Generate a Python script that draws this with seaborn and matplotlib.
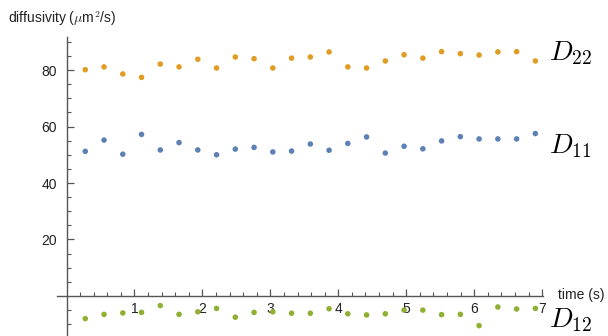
import numpy as np
import pandas as pd
import matplotlib
matplotlib.use("Agg")
import matplotlib.pyplot as plt
import seaborn as sns
from matplotlib.ticker import FixedLocator

# sampling times (s)
time = [round(0.276 * k, 3) for k in range(1, 26)]

# diffusivities (um^2/s)
d22 = [80.1, 81.1, 78.6, 77.4, 82.1, 81.1, 83.8, 80.7, 84.6, 84.0, 80.7, 84.2,
       84.6, 86.4, 81.1, 80.7, 83.2, 85.4, 84.2, 86.5, 85.8, 85.3, 86.4, 86.5, 83.2]
d11 = [51.2, 55.2, 50.2, 57.2, 51.7, 54.3, 51.7, 50.0, 52.0, 52.6, 51.0, 51.3,
       53.8, 51.6, 54.0, 56.3, 50.6, 53.0, 52.1, 54.9, 56.4, 55.6, 55.6, 55.6, 57.5]
d12 = [-8.0, -6.5, -6.0, -5.8, -3.4, -6.5, -5.6, -4.4, -7.5, -5.8, -5.6, -6.1,
       -6.1, -4.5, -6.3, -6.7, -6.3, -5.0, -5.0, -6.6, -6.5, -10.5, -3.9, -4.6, -4.4]

series_names = ["D22", "D11", "D12"]
series_labels = [r"$D_{22}$", r"$D_{11}$", r"$D_{12}$"]
label_y = [85.8, 53.1, -8.5]
colors = ["#E19C24", "#5E81B5", "#8FB032"]

df = pd.concat([
    pd.DataFrame({"time": time, "value": vals, "series": name})
    for name, vals in zip(series_names, [d22, d11, d12])
])

sns.set_theme(style="white")
plt.rcParams["font.family"] = ["Liberation Sans", "DejaVu Sans"]
plt.rcParams["mathtext.fontset"] = "cm"

fig = plt.figure(figsize=(6.08, 3.36), dpi=100)
ax = fig.add_axes([0, 0, 1, 1])

sns.scatterplot(data=df, x="time", y="value", hue="series",
                palette=dict(zip(series_names, colors)),
                s=16, edgecolor="none", legend=False, ax=ax, zorder=3)

ax.set_xlim(-0.979, 7.969)
ax.set_ylim(-14.16, 104.78)
ax.set_xlabel("")
ax.set_ylabel("")

axis_color = "#555555"
for side in ["top", "right"]:
    ax.spines[side].set_visible(False)
ax.spines["left"].set_position(("data", 0))
ax.spines["bottom"].set_position(("data", 0))
ax.spines["left"].set_bounds(-20, 91.8)
ax.spines["bottom"].set_bounds(-0.14, 7.01)
for side in ["left", "bottom"]:
    ax.spines[side].set_color(axis_color)
    ax.spines[side].set_linewidth(1.0)

ax.xaxis.set_major_locator(FixedLocator([1, 2, 3, 4, 5, 6, 7]))
ax.xaxis.set_minor_locator(FixedLocator(
    [round(0.2 * i, 2) for i in range(1, 35) if i % 5 != 0]))
ax.yaxis.set_major_locator(FixedLocator([20, 40, 60, 80]))
ax.yaxis.set_minor_locator(FixedLocator(
    [v for v in range(-10, 95, 5) if v % 20 != 0]))

ax.tick_params(axis="both", which="both", direction="in", color=axis_color,
               labelsize=10, labelcolor="#222222", left=True, bottom=True)
ax.tick_params(axis="both", which="major", length=5, width=0.9)
ax.tick_params(axis="both", which="minor", length=3, width=0.8)
ax.tick_params(axis="x", which="major", pad=4)
ax.tick_params(axis="y", which="major", pad=7)

# axis titles
fig.text(8 / 608, 1 - 19 / 336,
         "diffusivity (" + r"$\mu$" + "m" + r"$^{2}$" + "/s)",
         fontsize=10, color="#222222", ha="left", va="center")
ax.text(7.23, 0.4, "time (s)", fontsize=10, color="#222222",
        ha="left", va="center")

# series labels
for lab, y, c in zip(series_labels, label_y, colors):
    ax.text(7.10, y, lab, fontsize=20, color="black", ha="left", va="center")

fig.savefig("out.png", dpi=100)
